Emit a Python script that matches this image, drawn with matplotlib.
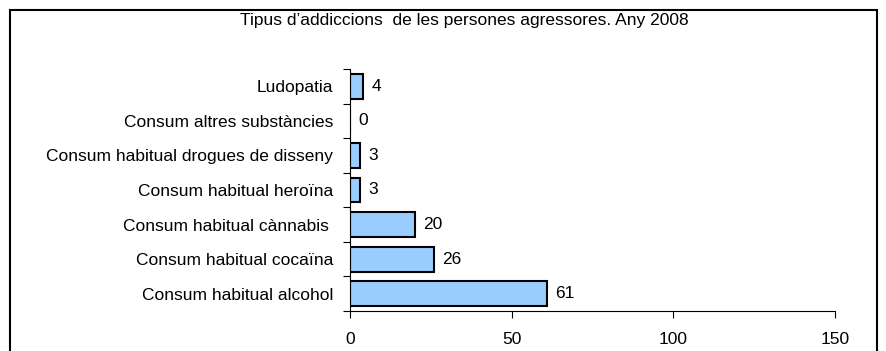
import matplotlib
matplotlib.use("Agg")
import matplotlib.pyplot as plt
from matplotlib.patches import Rectangle
import numpy as np

# addiction types, bottom to top
categories = [
    "Consum habitual alcohol",
    "Consum habitual cocaïna",
    "Consum habitual cànnabis ",
    "Consum habitual heroïna",
    "Consum habitual drogues de disseny",
    "Consum altres substàncies",
    "Ludopatia",
]
values = [61, 26, 20, 3, 3, 0, 4]
xticks = [0, 50, 100, 150]
title = "Tipus d\u2019addiccions  de les persones agressores. Any 2008"

plt.rcParams['font.family'] = ['Liberation Sans', 'DejaVu Sans']
fs = 12.5

fig = plt.figure(figsize=(8.87, 3.51), dpi=100)

# outer chart frame
fig.patches.append(Rectangle((10/887, -0.05), 867/887, 1.05 - 10/351,
                             transform=fig.transFigure, fill=False,
                             edgecolor='black', linewidth=1.5))

ax = fig.add_axes([350/887, 1 - 311/351, 485/887, 242/351])
y = np.arange(len(categories))
ax.barh(y, values, height=0.72, color='#99CCFF', edgecolor='black', linewidth=1.5)

for yi, v in zip(y, values):
    ax.annotate(str(v), (v, yi), xytext=(6, 0), textcoords='offset points',
                va='center', ha='left', fontsize=fs)

ax.set_xlim(0, 150)
ax.set_ylim(-0.5, len(categories) - 0.5)
ax.set_xticks(xticks)
ax.set_xticklabels([str(t) for t in xticks], fontsize=fs)
ax.tick_params(axis='x', length=5, pad=10, width=0.8)

ax.set_yticks(y)
ax.set_yticklabels(categories, fontsize=fs)
ax.set_yticks(np.arange(-0.5, len(categories)), minor=True)
ax.tick_params(axis='y', which='major', length=0, pad=12)
ax.tick_params(axis='y', which='minor', length=5, width=0.8)

for s in ['top', 'right']:
    ax.spines[s].set_visible(False)
ax.spines['left'].set_linewidth(0.8)
ax.spines['bottom'].set_linewidth(0.8)

fig.text(464/887, 1 - 21/351, title, ha='center', va='center', fontsize=fs)

fig.savefig("out.png", dpi=100)
